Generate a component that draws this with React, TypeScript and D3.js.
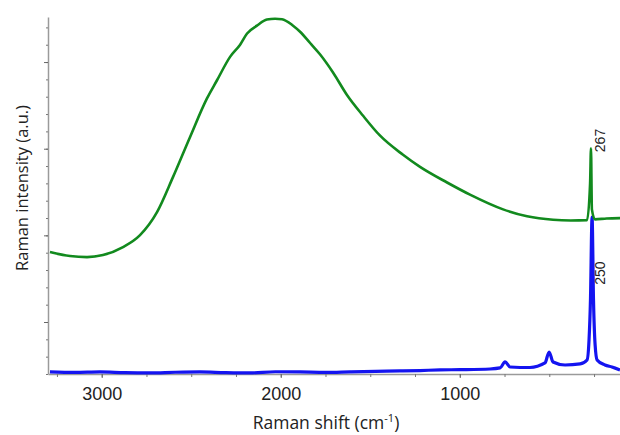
import React, { useEffect, useRef } from 'react';
import * as d3 from 'd3';

// green spectrum (Raman shift cm-1, intensity a.u.)
const greenShift = [3289, 3177, 3082, 2993, 2881, 2786, 2691, 2602, 2507, 2412, 2356, 2283, 2227, 2188, 2133, 2077, 2032, 1993, 1931, 1892, 1836, 1781, 1708, 1630, 1540, 1445, 1317, 1222, 1071, 943, 758, 624, 479, 380, 289, 272, 267, 262, 245, 180, 105];
const greenIntensity = [1807, 1761, 1749, 1773, 1865, 2003, 2268, 2672, 3133, 3580, 3790, 4060, 4200, 4330, 4420, 4490, 4500, 4495, 4420, 4350, 4220, 4090, 3880, 3620, 3380, 3150, 2930, 2790, 2610, 2470, 2300, 2220, 2180, 2172, 2176, 2600, 3006, 2300, 2185, 2195, 2199];

// blue spectrum
const blueShift = [3289, 3150, 3010, 2870, 2730, 2590, 2451, 2310, 2172, 2030, 1892, 1750, 1613, 1470, 1334, 1222, 1110, 999, 831, 775, 747, 719, 608, 524, 501, 479, 412, 328, 289, 278, 270, 261, 253, 244, 233, 189, 150, 105];
const blueIntensity = [424, 418, 424, 415, 412, 420, 424, 416, 412, 426, 424, 418, 424, 430, 435, 440, 447, 450, 458, 470, 539, 481, 475, 527, 654, 539, 504, 516, 562, 792, 1254, 2211, 1254, 735, 562, 504, 481, 447];

// peak annotations
const peakLabels = ['267', '250'];
const peakShift = [267, 267];
const peakIntensity = [2960, 1430];

const xMajor = [3000, 2000, 1000];
const xMinor = d3.range(3250, 100, -250);
const yMajor = [1000, 2000, 3000, 4000];
const yMinor = d3.range(400, 4521, 200);

const W = 620;
const H = 435;

const App = () => {
  const svgRef = useRef<SVGSVGElement>(null);

  useEffect(() => {
    const svg = d3.select(svgRef.current);
    svg.selectAll('*').remove();

    const margin = { top: 17, right: 0, bottom: 61, left: 48 };

    const x = d3.scaleLinear()
      .domain([3300, 105])
      .range([margin.left, W - margin.right]);

    const y = d3.scaleLinear()
      .domain([400, 4520])
      .range([H - margin.bottom, margin.top]);

    const axisColor = '#9a9a9a';

    // x axis: minor ticks then major with labels
    const gxMinor = svg.append('g')
      .attr('transform', `translate(0,${H - margin.bottom})`)
      .call(d3.axisBottom(x).tickValues(xMinor).tickSize(3).tickSizeOuter(0).tickFormat(() => ''));
    gxMinor.select('.domain').attr('stroke', axisColor).attr('stroke-width', 1.5);
    gxMinor.selectAll('.tick line').attr('stroke', '#777');

    const gx = svg.append('g')
      .attr('transform', `translate(0,${H - margin.bottom})`)
      .call(d3.axisBottom(x).tickValues(xMajor).tickSize(4).tickSizeOuter(0).tickPadding(9).tickFormat(d3.format('d')));
    gx.select('.domain').remove();
    gx.selectAll('.tick line').attr('stroke', '#666');
    gx.selectAll('.tick text')
      .attr('font-family', 'Liberation Sans, Arial, sans-serif')
      .attr('font-size', 18)
      .attr('fill', '#222');

    // y axis, no labels
    const gyMinor = svg.append('g')
      .attr('transform', `translate(${margin.left},0)`)
      .call(d3.axisLeft(y).tickValues(yMinor).tickSize(2).tickSizeOuter(0).tickFormat(() => ''));
    gyMinor.select('.domain').attr('stroke', axisColor).attr('stroke-width', 1.5);
    gyMinor.selectAll('.tick line').attr('stroke', '#777');

    const gy = svg.append('g')
      .attr('transform', `translate(${margin.left},0)`)
      .call(d3.axisLeft(y).tickValues(yMajor).tickSize(4).tickSizeOuter(0).tickFormat(() => ''));
    gy.select('.domain').remove();
    gy.selectAll('.tick line').attr('stroke', '#666');

    const line = d3.line<[number, number]>()
      .x(d => x(d[0]))
      .y(d => y(d[1]))
      .curve(d3.curveMonotoneX);

    const blue = blueShift.map((s, i) => [s, blueIntensity[i]] as [number, number]);
    const green = greenShift.map((s, i) => [s, greenIntensity[i]] as [number, number]);

    svg.append('path')
      .datum(blue)
      .attr('fill', 'none')
      .attr('stroke', '#1414f0')
      .attr('stroke-width', 3.2)
      .attr('stroke-linejoin', 'round')
      .attr('d', line);

    svg.append('path')
      .datum(green)
      .attr('fill', 'none')
      .attr('stroke', '#128a1e')
      .attr('stroke-width', 2.6)
      .attr('stroke-linejoin', 'round')
      .attr('d', line);

    // peak labels, rotated
    svg.selectAll('.peak')
      .data(peakLabels)
      .join('text')
        .attr('class', 'peak')
        .attr('transform', (d, i) => `translate(${x(peakShift[i]) + 14},${y(peakIntensity[i])}) rotate(-90)`)
        .attr('font-family', 'Liberation Sans, Arial, sans-serif')
        .attr('font-size', 14)
        .attr('fill', '#222')
        .text(d => d);

    // axis titles
    const xt = svg.append('text')
      .attr('x', 326)
      .attr('y', 429)
      .attr('text-anchor', 'middle')
      .attr('font-family', 'Open Sans, sans-serif')
      .attr('font-size', 17.5)
      .attr('fill', '#222');
    xt.append('tspan').text('Raman shift (cm');
    xt.append('tspan').attr('font-size', 11).attr('dy', -7).text('-1');
    xt.append('tspan').attr('dy', 7).text(')');

    svg.append('text')
      .attr('transform', 'translate(28,188) rotate(-90)')
      .attr('text-anchor', 'middle')
      .attr('font-family', 'Open Sans, sans-serif')
      .attr('font-size', 16.5)
      .attr('fill', '#222')
      .text('Raman intensity (a.u.)');
  }, []);

  return (
    <svg
      ref={svgRef}
      width={W}
      height={H}
      style={{ position: 'absolute', left: 0, top: 0, background: '#fff' }}
    />
  );
};

export default App;
